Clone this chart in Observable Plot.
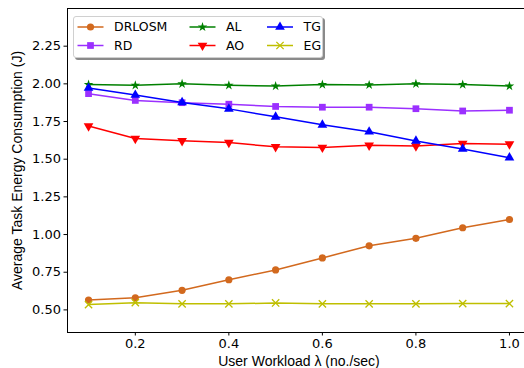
<!DOCTYPE html>
<html><head><meta charset="utf-8">
<script src="https://cdn.jsdelivr.net/npm/d3@7"></script>
<script src="https://cdn.jsdelivr.net/npm/@observablehq/plot@0.6"></script>
<style>
body{margin:0;background:#fff;}
#wrap{position:relative;width:524px;height:368px;overflow:hidden;background:#fff;}
#legend{position:absolute;left:73px;top:16px;width:248px;height:40px;border:1px solid #d0d0d0;border-radius:3px;background:#fff;box-shadow:2px 2px 0 #8a8a8a;}
#legend svg{position:absolute;left:0;top:0;}
</style>
</head><body><div id="wrap"><div id="chart"></div><div id="legend"></div></div>
<script>
const workload = [0.1, 0.2, 0.3, 0.4, 0.5, 0.6, 0.7, 0.8, 0.9, 1.0];
const seriesNames = ["DRLOSM", "RD", "AL", "AO", "TG", "EG"];
const DRLOSM = [0.565, 0.58, 0.63, 0.70, 0.765, 0.845, 0.925, 0.975, 1.045, 1.10];
const RD = [1.935, 1.89, 1.875, 1.865, 1.85, 1.845, 1.845, 1.835, 1.82, 1.825];
const AL = [1.995, 1.99, 2.0, 1.99, 1.985, 1.995, 1.993, 2.0, 1.995, 1.985];
const AO = [1.72, 1.637, 1.622, 1.61, 1.582, 1.578, 1.592, 1.587, 1.604, 1.6];
const TG = [1.972, 1.926, 1.877, 1.834, 1.781, 1.728, 1.682, 1.621, 1.568, 1.51];
const EG = [0.535, 0.548, 0.54, 0.54, 0.546, 0.54, 0.54, 0.54, 0.542, 0.542];
const yTicks = [0.5, 0.75, 1.0, 1.25, 1.5, 1.75, 2.0, 2.25];
const xTicks = [0.2, 0.4, 0.6, 0.8, 1.0];
const xLabel = "User Workload \u03bb (no./sec)";
const yLabel = "Average Task Energy Consumption (J)";

const seriesValues = {DRLOSM, RD, AL, AO, TG, EG};
const style = {
  DRLOSM: {color: "#d2691e", symbol: "circle", r: 3.6, rotate: 0},
  RD: {color: "#9b30ff", symbol: "square", r: 3.8, rotate: 0},
  AL: {color: "#008000", symbol: "star", r: 3.0, rotate: 0},
  AO: {color: "#ff0000", symbol: "triangle", r: 3.6, rotate: 180},
  TG: {color: "#0000ff", symbol: "triangle", r: 3.6, rotate: 0},
  EG: {color: "#bfbf00", symbol: "times", r: 3.4, rotate: 0}
};
const data = seriesNames.flatMap(s => workload.map((x, i) => ({series: s, x, y: seriesValues[s][i]})));

const marks = [];
for (const s of seriesNames) {
  const d = data.filter(e => e.series === s);
  const st = style[s];
  marks.push(Plot.line(d, {x: "x", y: "y", stroke: st.color, strokeWidth: 1.5}));
  if (st.symbol === "times") {
    marks.push(Plot.dot(d, {x: "x", y: "y", symbol: st.symbol, r: st.r, stroke: st.color, strokeWidth: 1.3, fill: "none"}));
  } else {
    marks.push(Plot.dot(d, {x: "x", y: "y", symbol: st.symbol, r: st.r, fill: st.color, stroke: "none", rotate: st.rotate}));
  }
}

const chart = Plot.plot({
  width: 524, height: 368,
  marginLeft: 67, marginRight: -6, marginTop: 8, marginBottom: 36,
  style: {fontFamily: "DejaVu Sans", fontSize: "13px", color: "#000", background: "#fff", overflow: "hidden"},
  x: {domain: [0.055, 1.045]},
  y: {domain: [0.35, 2.5]},
  marks: [
    Plot.axisX({ticks: xTicks, tickFormat: d3.format(".1f"), tickSize: 3.5, tickPadding: 3, label: null, fontSize: 13}),
    Plot.axisY({ticks: yTicks, tickFormat: d3.format(".2f"), tickSize: 3.5, tickPadding: 3, label: null, fontSize: 13}),
    ...marks,
    Plot.frame({stroke: "#000", strokeWidth: 1}),
    Plot.text([xLabel], {frameAnchor: "bottom", lineAnchor: "middle", dy: 29, fontFamily: "Liberation Sans", fontSize: 14, fill: "#000"}),
    Plot.text([yLabel], {frameAnchor: "left", textAnchor: "middle", lineAnchor: "middle", rotate: -90, dx: -50, dy: 0, fontFamily: "Liberation Sans", fontSize: 14, fill: "#000"})
  ]
});
document.getElementById("chart").appendChild(chart);

// legend
const lg = d3.select("#legend").append("svg").attr("width", 248).attr("height", 40);
const cols = [3.5, 115.5, 193];
const rows = [10, 28.5];
seriesNames.forEach((s, i) => {
  const st = style[s];
  const cx = cols[Math.floor(i / 2)], cy = rows[i % 2];
  const g = lg.append("g").attr("transform", `translate(${cx},${cy})`);
  g.append("line").attr("x1", 0).attr("x2", 26).attr("y1", 0).attr("y2", 0).attr("stroke", st.color).attr("stroke-width", 1.5);
  const symMap = {circle: d3.symbolCircle, square: d3.symbolSquare, star: d3.symbolStar, triangle: d3.symbolTriangle, times: d3.symbolTimes};
  const p = d3.symbol(symMap[st.symbol], st.r * st.r * Math.PI)();
  const m = g.append("path").attr("d", p).attr("transform", `translate(13,0) rotate(${st.rotate})`);
  if (st.symbol === "times") m.attr("fill", "none").attr("stroke", st.color).attr("stroke-width", 1.3);
  else m.attr("fill", st.color);
  g.append("text").attr("x", 36.5).attr("y", 0).attr("dy", "0.35em").attr("font-family", "DejaVu Sans").attr("font-size", 12.5).text(s);
});
</script>
</body></html>
